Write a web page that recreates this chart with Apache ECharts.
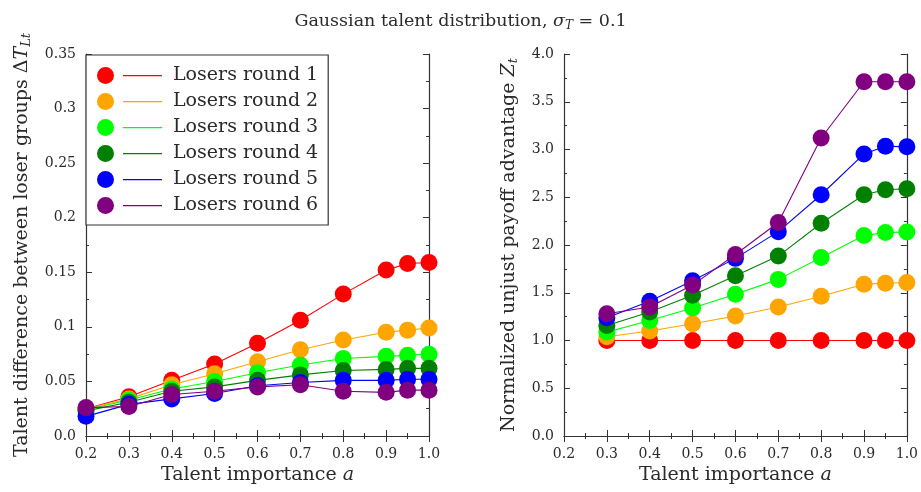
<!DOCTYPE html>
<html>
<head>
<meta charset="utf-8">
<script src="https://cdn.jsdelivr.net/npm/echarts@6/dist/echarts.min.js"></script>
<style>
  html, body { margin: 0; padding: 0; background: #fff; }
  #chart { width: 921px; height: 492px; }
</style>
</head>
<body>
<div id="chart"></div>
<script>
// talent importance values on the x axis
const talentLeft = [0.2, 0.3, 0.4, 0.5, 0.6, 0.7, 0.8, 0.9, 0.95, 1.0]
const talentRight = [0.3, 0.4, 0.5, 0.6, 0.7, 0.8, 0.9, 0.95, 1.0]

const roundNames = ['Losers round 1', 'Losers round 2', 'Losers round 3',
  'Losers round 4', 'Losers round 5', 'Losers round 6']

// left panel: talent difference between loser groups
const diffRound1 = [0.025, 0.036, 0.051, 0.066, 0.085, 0.106, 0.130, 0.152, 0.158, 0.159]
const diffRound2 = [0.025, 0.034, 0.047, 0.057, 0.068, 0.079, 0.088, 0.095, 0.097, 0.099]
const diffRound3 = [0.024, 0.033, 0.043, 0.050, 0.058, 0.065, 0.071, 0.073, 0.074, 0.075]
const diffRound4 = [0.023, 0.031, 0.041, 0.045, 0.051, 0.056, 0.060, 0.061, 0.062, 0.062]
const diffRound5 = [0.018, 0.029, 0.034, 0.039, 0.046, 0.049, 0.051, 0.051, 0.052, 0.052]
const diffRound6 = [0.026, 0.027, 0.038, 0.041, 0.045, 0.047, 0.041, 0.040, 0.042, 0.042]

// right panel: normalized unjust payoff advantage
const advRound1 = [1.0, 1.0, 1.0, 1.0, 1.0, 1.0, 1.0, 1.0, 1.0]
const advRound2 = [1.04, 1.10, 1.175, 1.256, 1.35, 1.463, 1.59, 1.60, 1.607]
const advRound3 = [1.088, 1.21, 1.34, 1.484, 1.64, 1.87, 2.10, 2.13, 2.137]
const advRound4 = [1.158, 1.298, 1.474, 1.677, 1.884, 2.228, 2.526, 2.579, 2.589]
const advRound5 = [1.239, 1.41, 1.625, 1.86, 2.14, 2.526, 2.954, 3.035, 3.028]
const advRound6 = [1.28, 1.35, 1.58, 1.90, 2.235, 3.12, 3.709, 3.71, 3.71]

const diffData = [diffRound1, diffRound2, diffRound3, diffRound4, diffRound5, diffRound6]
const advData = [advRound1, advRound2, advRound3, advRound4, advRound5, advRound6]
const colors = ['#ff0000', '#ffa500', '#00ff00', '#008000', '#0000ff', '#800080']

const FONT = 'DejaVu Serif'
const ink = '#2a2a2a'

// rich text styles for names with italic symbols and subscripts
const makeRich = size => ({
  n: { fontFamily: FONT, fontSize: size, fontWeight: 'normal', color: ink, lineHeight: 22 },
  i: { fontFamily: FONT, fontSize: size, fontWeight: 'normal', color: ink, fontStyle: 'italic', lineHeight: 22 },
  s: { fontFamily: FONT, fontSize: Math.round(size * 0.68), fontWeight: 'normal', color: ink, fontStyle: 'italic', lineHeight: 12, verticalAlign: 'bottom' }
})
const rich = makeRich(19)

const frameLine = { show: true, lineStyle: { color: '#333', width: 1.2 } }
const tickStyle = { show: true, inside: true, length: 6, lineStyle: { color: '#333', width: 1 } }
const minorStyle = { show: true, splitNumber: 2, length: 3, lineStyle: { color: '#333', width: 1 } }
const labelStyle = { fontFamily: FONT, fontSize: 14, color: ink }

const makeX = (grid, pos) => ({
  type: 'value',
  gridIndex: grid,
  position: pos,
  min: 0.2,
  max: 1.0,
  interval: 0.1,
  axisLine: frameLine,
  axisTick: tickStyle,
  minorTick: minorStyle,
  splitLine: { show: false },
  axisLabel: pos === 'bottom'
    ? { ...labelStyle, margin: 11, formatter: v => v.toFixed(1) }
    : { show: false },
  name: pos === 'bottom' ? '{n|Talent importance }{i|a}' : '',
  nameLocation: 'middle',
  nameGap: 27,
  nameTextStyle: { rich }
})

const makeY = (grid, pos, max, step, fmt, name, gap) => ({
  type: 'value',
  gridIndex: grid,
  position: pos,
  min: 0,
  max: max,
  interval: step,
  axisLine: frameLine,
  axisTick: tickStyle,
  minorTick: minorStyle,
  splitLine: { show: false },
  axisLabel: pos === 'left' ? { ...labelStyle, margin: 10, formatter: fmt } : { show: false },
  name: pos === 'left' ? name : '',
  nameLocation: 'middle',
  nameGap: gap,
  nameRotate: 90,
  nameTextStyle: { rich }
})

const series = []
roundNames.forEach((name, k) => {
  series.push({
    name,
    type: 'line',
    xAxisIndex: 0,
    yAxisIndex: 0,
    data: talentLeft.map((x, j) => [x, diffData[k][j]]),
    symbol: 'circle',
    symbolSize: 17,
    itemStyle: { color: colors[k] },
    lineStyle: { color: colors[k], width: 1.1 },
    emphasis: { disabled: true },
    z: 2 + k
  })
  series.push({
    name,
    type: 'line',
    xAxisIndex: 2,
    yAxisIndex: 2,
    data: talentRight.map((x, j) => [x, advData[k][j]]),
    symbol: 'circle',
    symbolSize: 17,
    itemStyle: { color: colors[k] },
    lineStyle: { color: colors[k], width: 1.1 },
    emphasis: { disabled: true },
    z: 2 + k
  })
})

const chart = echarts.init(document.getElementById('chart'), null, { renderer: 'canvas' })

chart.setOption({
  backgroundColor: '#fff',
  animation: false,
  title: {
    text: '{n|Gaussian talent distribution, }{i|σ}{s|T}{n| = 0.1}',
    left: 'center',
    top: 5,
    textStyle: { rich: makeRich(17.5) }
  },
  legend: {
    data: roundNames.map((name, k) => ({ name, itemStyle: { color: colors[k], borderWidth: 0 } })),
    orient: 'vertical',
    left: 86,
    top: 55,
    padding: [11, 10, 10, 11],
    itemGap: 7,
    itemWidth: 65,
    itemHeight: 17,
    icon: 'path://M0,8.5 A8.5,8.5 0 1,0 17,8.5 A8.5,8.5 0 1,0 0,8.5 Z M26,8 L65,8 L65,9.2 L26,9.2 Z',
    itemStyle: { borderWidth: 0 },
    lineStyle: { width: 0 },
    backgroundColor: '#fff',
    borderColor: '#333',
    borderWidth: 1.2,
    borderRadius: 0,
    textStyle: { fontFamily: FONT, fontSize: 19, color: ink, lineHeight: 17, padding: [0, 0, 0, 6] },
    selectedMode: false,
    z: 20
  },
  grid: [
    { left: 86, top: 54, width: 343, height: 382 },
    { left: 564, top: 54, width: 343, height: 382 }
  ],
  xAxis: [makeX(0, 'bottom'), makeX(0, 'top'), makeX(1, 'bottom'), makeX(1, 'top')],
  yAxis: [
    makeY(0, 'left', 0.35, 0.05, v => (v === 0 ? '0.0' : String(+v.toFixed(2))),
      '{n|Talent difference between loser groups Δ}{i|T}{s|Lt}', 53),
    makeY(0, 'right', 0.35, 0.05, null, '', 0),
    makeY(1, 'left', 4.0, 0.5, v => v.toFixed(1),
      '{n|Normalized unjust payoff advantage }{i|Z}{s|t}', 44),
    makeY(1, 'right', 4.0, 0.5, null, '', 0)
  ],
  series
})
</script>
</body>
</html>
